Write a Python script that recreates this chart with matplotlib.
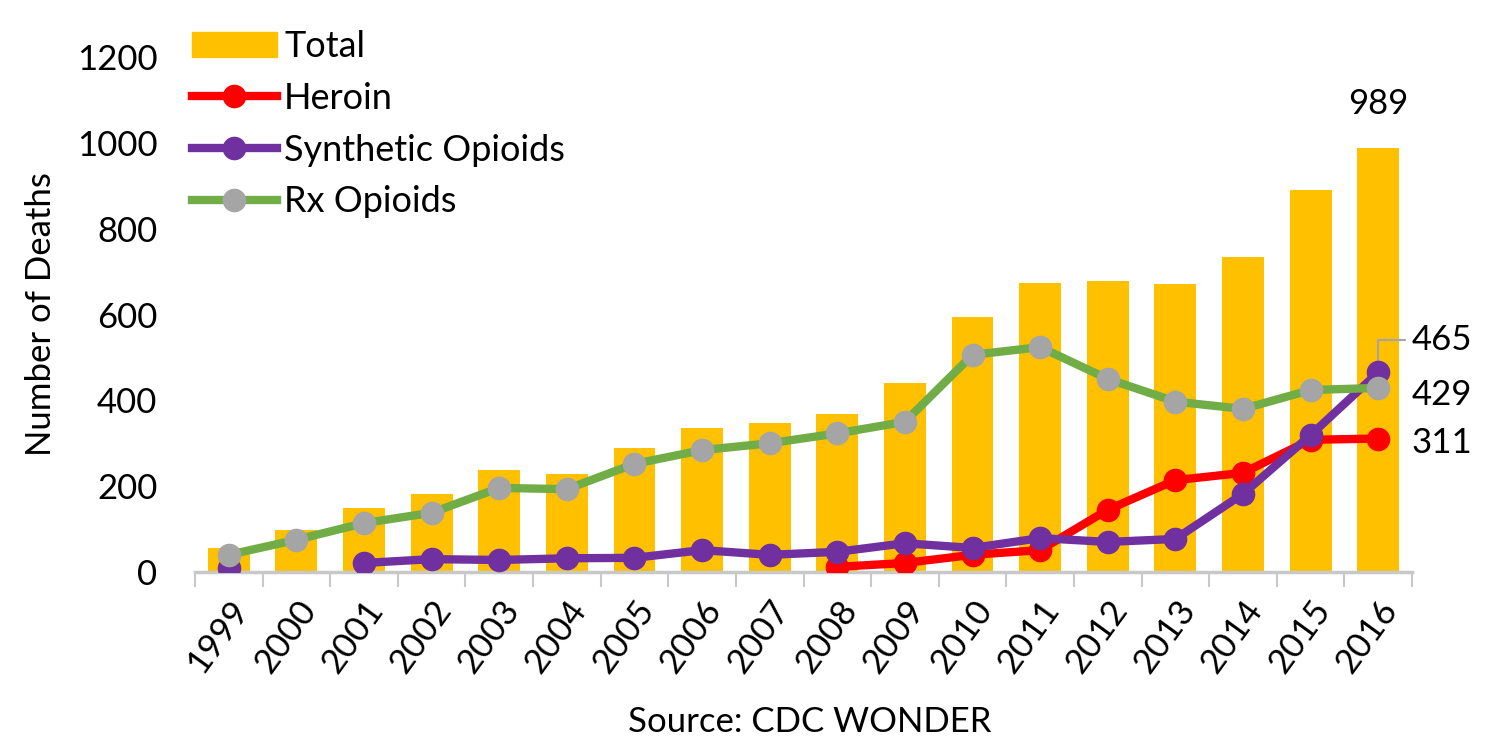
import matplotlib
matplotlib.use("Agg")
import matplotlib.pyplot as plt
from matplotlib.lines import Line2D
from matplotlib.patches import Patch
import numpy as np

years = ["1999", "2000", "2001", "2002", "2003", "2004", "2005", "2006", "2007",
         "2008", "2009", "2010", "2011", "2012", "2013", "2014", "2015", "2016"]
total = [56, 98, 149, 182, 238, 228, 289, 336, 347, 368, 440, 594, 674, 678, 671, 734, 890, 989]
heroin = [None, None, None, None, None, None, None, None, None,
          12, 21, 40, 51, 145, 214, 231, 308, 311]
synthetic = [10, None, 21, 30, 28, 32, 33, 51, 40, 47, 67, 56, 79, 70, 77, 182, 319, 465]
rx = [40, 75, 114, 138, 196, 193, 252, 284, 300, 323, 350, 506, 524, 450, 397, 380, 424, 429]
yticks = [0, 200, 400, 600, 800, 1000, 1200]

plt.rcParams['font.family'] = ['Lato', 'DejaVu Sans']
FS = 25

fig = plt.figure(figsize=(14.85, 7.47), dpi=100)
ax = fig.add_axes([195/1485, 1-572/747, (1412-195)/1485, (572-57)/747])

x = np.arange(len(years))
def arr(v):
    return np.array([np.nan if a is None else a for a in v], dtype=float)

ax.bar(x, total, width=0.62, color="#FFC000", zorder=1)
lw = 6
ms = 16
ax.plot(x, arr(heroin), color="#FF0000", lw=lw, marker='o', ms=ms, zorder=3)
syn = arr(synthetic)
ax.plot(x, syn, color="#7030A0", lw=lw, marker='o', ms=ms, zorder=4)
ax.plot(x, arr(rx), color="#70AD47", lw=lw, marker='o', ms=ms,
        markerfacecolor="#A5A5A5", markeredgecolor="#A5A5A5", zorder=5)

ax.set_xlim(-0.5, len(years) - 0.5)
ax.set_ylim(0, 1200)
ax.set_yticks(yticks)
ax.tick_params(axis='y', length=0, labelsize=FS, pad=27)
for s in ['top', 'right', 'left']:
    ax.spines[s].set_visible(False)
ax.spines['bottom'].set_color("#C8C8C8")
ax.spines['bottom'].set_linewidth(2.5)
ax.set_xticks(x)
ax.set_xticklabels(years, rotation=54, ha='right', rotation_mode='anchor')
ax.tick_params(axis='x', length=0, labelsize=FS, pad=16)
ax.set_xticks(np.arange(-0.5, len(years)), minor=True)
ax.tick_params(axis='x', which='minor', length=11, width=1.5, color="#C8C8C8")

ax.set_ylabel("Number of Deaths", fontsize=FS, labelpad=14)
fig.text(810/1485, 1-722/747, "Source: CDC WONDER", fontsize=FS, ha='center', va='center')

# data labels
ax.annotate(str(total[-1]), (x[-1], total[-1]), xytext=(0, 20), textcoords='offset points',
            ha='center', va='bottom', fontsize=FS)
ax.annotate(str(synthetic[-1]), (x[-1], synthetic[-1]), xytext=(24, 23), textcoords='offset points',
            ha='left', va='center', fontsize=FS,
            arrowprops=dict(arrowstyle='-', color="#A5A5A5", lw=1.5,
                            connectionstyle='angle,angleA=0,angleB=90,rad=0',
                            shrinkA=3, shrinkB=6))
ax.annotate(str(rx[-1]), (x[-1], rx[-1]), xytext=(24, -5), textcoords='offset points',
            ha='left', va='center', fontsize=FS)
ax.annotate(str(heroin[-1]), (x[-1], heroin[-1]), xytext=(24, -3), textcoords='offset points',
            ha='left', va='center', fontsize=FS)

handles = [Patch(color="#FFC000", label="Total"),
           Line2D([], [], color="#FF0000", lw=lw, marker='o', ms=ms, label="Heroin"),
           Line2D([], [], color="#7030A0", lw=lw, marker='o', ms=ms, label="Synthetic Opioids"),
           Line2D([], [], color="#70AD47", lw=lw, marker='o', ms=ms,
                  markerfacecolor="#A5A5A5", markeredgecolor="#A5A5A5", label="Rx Opioids")]
leg = fig.legend(handles=handles, loc='upper left', bbox_to_anchor=(192/1485, 1-30/747),
                 frameon=False, fontsize=26, handlelength=2.35, handletextpad=0.2,
                 labelspacing=0.52, borderaxespad=0, borderpad=0)

fig.savefig("out.png", dpi=100)
